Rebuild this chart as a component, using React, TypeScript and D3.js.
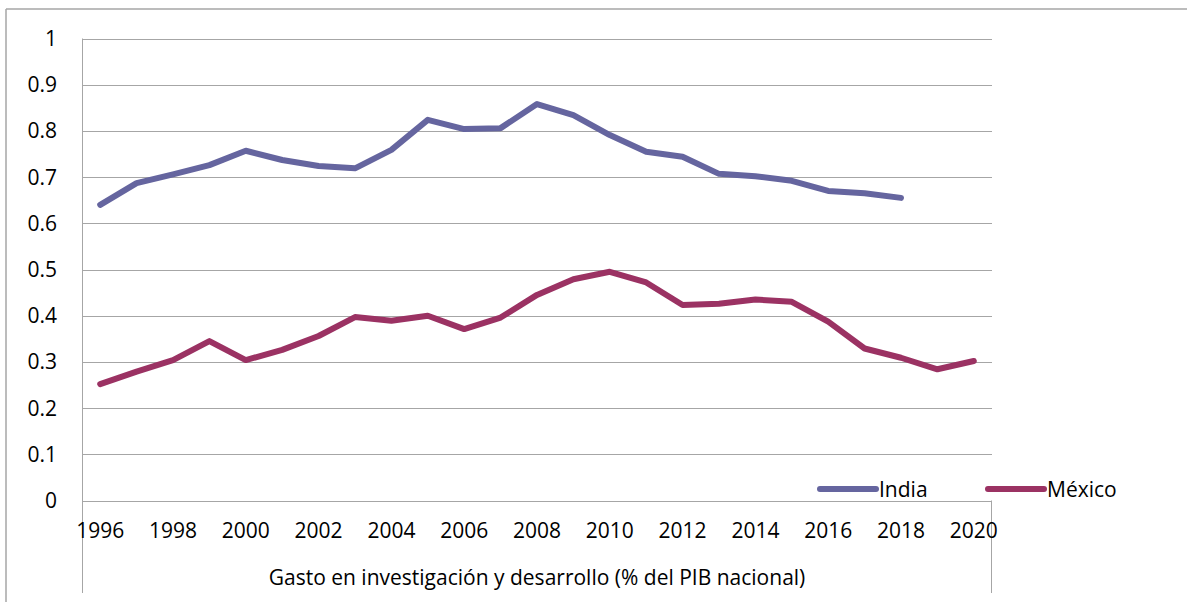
import React from "react";
import * as d3 from "d3";

const years: number[] = d3.range(1996, 2021);
const tickYears: number[] = [1996, 1998, 2000, 2002, 2004, 2006, 2008, 2010, 2012, 2014, 2016, 2018, 2020];
const yTicks: number[] = [0, 0.1, 0.2, 0.3, 0.4, 0.5, 0.6, 0.7, 0.8, 0.9, 1];

// Gasto en I+D (% del PIB)
const india: (number | null)[] = [
  0.64, 0.687, 0.706, 0.726, 0.757, 0.737, 0.724, 0.719, 0.759, 0.824,
  0.804, 0.806, 0.858, 0.834, 0.791, 0.755, 0.744, 0.707, 0.702, 0.692,
  0.67, 0.665, 0.655, null, null,
];
const mexico: (number | null)[] = [
  0.252, 0.279, 0.304, 0.345, 0.304, 0.326, 0.356, 0.397, 0.389, 0.4,
  0.371, 0.396, 0.445, 0.479, 0.495, 0.472, 0.423, 0.426, 0.435, 0.43,
  0.387, 0.329, 0.309, 0.284, 0.302,
];

const seriesNames = ["India", "México"];
const seriesColors = ["#65659f", "#9b3263"];
const xTitle = "Gasto en investigación y desarrollo (% del PIB nacional)";

const W = 1187;
const H = 602;
const plot = { left: 82, right: 992, top: 38.5, bottom: 500.5 };
const FONT = "'Open Sans', 'Noto Sans', sans-serif";
const GRID = "#a6a6a6";

export default function App() {
  const x = d3
    .scaleBand<number>()
    .domain(years)
    .range([plot.left, plot.right]);
  const cx = (yr: number) => (x(yr) as number) + x.bandwidth() / 2;
  const y = d3.scaleLinear().domain([0, 1]).range([plot.bottom, plot.top]);

  const line = d3
    .line<number | null>()
    .defined((d) => d != null)
    .x((_, i) => cx(years[i]))
    .y((d) => y(d as number));

  const data = [india, mexico];
  const legendX = [820, 988];

  return (
    <svg
      width={W}
      height={H}
      style={{ position: "absolute", left: 0, top: 0, background: "#fff" }}
      fontFamily={FONT}
    >
      {/* chart frame */}
      <line x1={6} x2={W} y1={9} y2={9} stroke={GRID} strokeWidth={1.5} />
      <line x1={6} x2={6} y1={9} y2={H} stroke={GRID} strokeWidth={1.5} />

      {/* gridlines */}
      {yTicks.map((t) => (
        <line
          key={t}
          x1={plot.left}
          x2={plot.right}
          y1={Math.round(y(t)) + 0.5}
          y2={Math.round(y(t)) + 0.5}
          stroke={GRID}
          strokeWidth={1}
        />
      ))}

      {/* value axis and category axis box */}
      <line x1={plot.left + 0.5} x2={plot.left + 0.5} y1={plot.top} y2={593} stroke={GRID} strokeWidth={1} />
      <line x1={plot.right - 0.5} x2={plot.right - 0.5} y1={plot.bottom} y2={593} stroke={GRID} strokeWidth={1} />

      {/* y tick labels */}
      {yTicks.map((t) => (
        <text
          key={t}
          x={57}
          y={y(t)}
          dy="0.36em"
          textAnchor="end"
          fontSize={21}
          fill="#000"
        >
          {d3.format("~g")(t)}
        </text>
      ))}

      {/* x tick labels */}
      {tickYears.map((yr) => (
        <text key={yr} x={cx(yr)} y={530} dy="0.36em" textAnchor="middle" fontSize={21} fill="#000">
          {yr}
        </text>
      ))}

      {/* axis title */}
      <text
        x={(plot.left + plot.right) / 2}
        y={577}
        dy="0.36em"
        textAnchor="middle"
        fontSize={21}
        fill="#000"
      >
        {xTitle}
      </text>

      {/* series */}
      {data.map((s, i) => (
        <path
          key={seriesNames[i]}
          d={line(s) ?? ""}
          fill="none"
          stroke={seriesColors[i]}
          strokeWidth={6}
          strokeLinejoin="round"
          strokeLinecap="round"
        />
      ))}

      {/* legend */}
      {seriesNames.map((name, i) => (
        <g key={name}>
          <line
            x1={legendX[i]}
            x2={legendX[i] + 56}
            y1={489}
            y2={489}
            stroke={seriesColors[i]}
            strokeWidth={6}
            strokeLinecap="round"
          />
          <text x={legendX[i] + 59} y={489} dy="0.36em" fontSize={21} fill="#000">
            {name}
          </text>
        </g>
      ))}
    </svg>
  );
}
